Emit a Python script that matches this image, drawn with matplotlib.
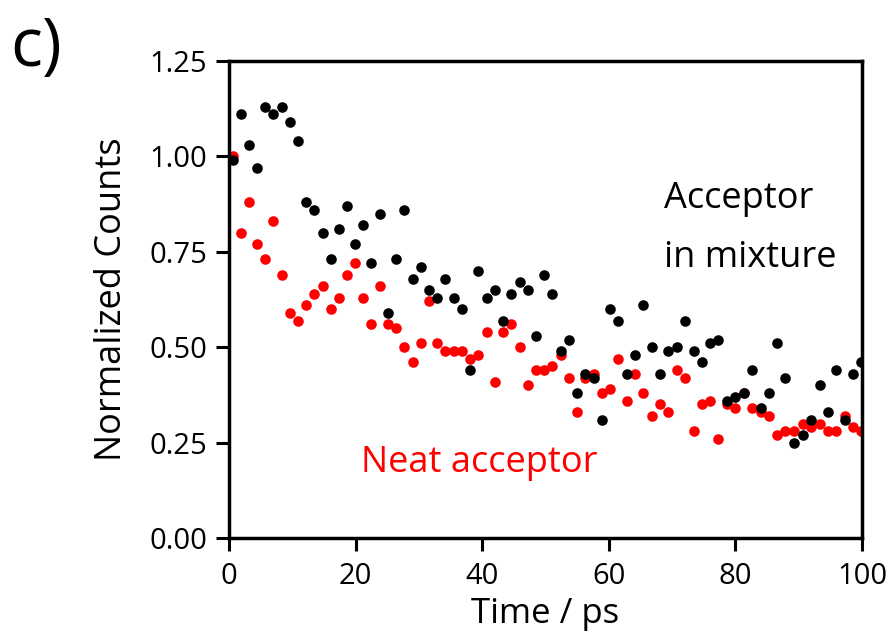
import matplotlib
matplotlib.use("Agg")
import matplotlib.pyplot as plt

plt.rcParams['font.family'] = ['Open Sans', 'DejaVu Sans']

# Delay times (ps)
time_ps = [0.6, 1.9, 3.2, 4.4, 5.7, 7.0, 8.3, 9.6, 10.9, 12.2, 13.5, 14.8,
           16.1, 17.4, 18.7, 19.9, 21.2, 22.5, 23.8, 25.1, 26.4, 27.7, 29.0,
           30.3, 31.6, 32.9, 34.2, 35.5, 36.8, 38.1, 39.4, 40.7, 42.0, 43.3,
           44.6, 45.9, 47.2, 48.5, 49.8, 51.1, 52.4, 53.7, 55.0, 56.3, 57.6,
           58.9, 60.2, 61.5, 62.8, 64.1, 65.4, 66.8, 68.1, 69.4, 70.7, 72.0,
           73.4, 74.7, 76.0, 77.3, 78.6, 80.0, 81.3, 82.7, 84.0, 85.3, 86.6,
           87.9, 89.3, 90.6, 91.9, 93.3, 94.6, 95.9, 97.3, 98.6, 99.9]

# Acceptor in mixture (black)
mixture = [0.99, 1.11, 1.03, 0.97, 1.13, 1.11, 1.13, 1.09, 1.04, 0.88, 0.86, 0.80,
           0.73, 0.81, 0.87, 0.77, 0.82, 0.72, 0.85, 0.59, 0.73, 0.86, 0.68,
           0.71, 0.65, 0.63, 0.68, 0.63, 0.60, 0.44, 0.70, 0.63, 0.65, 0.57,
           0.64, 0.67, 0.65, 0.53, 0.69, 0.64, 0.49, 0.52, 0.38, 0.43, 0.42,
           0.31, 0.60, 0.57, 0.43, 0.48, 0.61, 0.50, 0.43, 0.49, 0.50, 0.57,
           0.49, 0.46, 0.51, 0.52, 0.36, 0.37, 0.38, 0.44, 0.34, 0.38, 0.51,
           0.42, 0.25, 0.27, 0.31, 0.40, 0.33, 0.44, 0.31, 0.43, 0.46]

# Neat acceptor (red)
neat = [1.00, 0.80, 0.88, 0.77, 0.73, 0.83, 0.69, 0.59, 0.57, 0.61, 0.64, 0.66,
        0.60, 0.63, 0.69, 0.72, 0.63, 0.56, 0.66, 0.56, 0.55, 0.50, 0.46,
        0.51, 0.62, 0.51, 0.49, 0.49, 0.49, 0.47, 0.48, 0.54, 0.41, 0.54,
        0.56, 0.50, 0.40, 0.44, 0.44, 0.45, 0.48, 0.42, 0.33, 0.42, 0.43,
        0.38, 0.39, 0.47, 0.36, 0.43, 0.38, 0.32, 0.35, 0.33, 0.44, 0.42,
        0.28, 0.35, 0.36, 0.26, 0.35, 0.34, 0.38, 0.34, 0.33, 0.32, 0.27,
        0.28, 0.28, 0.30, 0.29, 0.30, 0.28, 0.28, 0.32, 0.29, 0.28]

x_ticks = [0, 20, 40, 60, 80, 100]
y_ticks = [0.00, 0.25, 0.50, 0.75, 1.00, 1.25]

fig = plt.figure(figsize=(8.93, 6.39), dpi=100)
ax = fig.add_axes([0.2564, 0.158, 0.7089, 0.7465])

ax.scatter(time_ps, mixture, s=58, color='black', linewidths=0, zorder=3)
ax.scatter(time_ps, neat, s=58, color='#ff0000', linewidths=0, zorder=2)

ax.set_xlim(0, 100)
ax.set_ylim(0, 1.25)
ax.set_xticks(x_ticks)
ax.set_yticks(y_ticks)
ax.set_yticklabels([f"{v:.2f}" for v in y_ticks])

for sp in ax.spines.values():
    sp.set_linewidth(2.5)
ax.tick_params(direction='out', length=9.5, width=2.2, labelsize=21)
ax.tick_params(axis='y', pad=6)
ax.tick_params(axis='x', pad=8)

ax.set_xlabel('Time / ps', fontsize=25, labelpad=4)
ax.set_ylabel('Normalized Counts', fontsize=26, labelpad=14)

ax.text(68.7, 0.889, 'Acceptor', fontsize=26, color='black', va='center', ha='left')
ax.text(68.7, 0.735, 'in mixture', fontsize=26, color='black', va='center', ha='left')
ax.text(20.8, 0.197, 'Neat acceptor', fontsize=26, color='#ff0000', va='center', ha='left')

fig.text(0.012, 0.925, 'c)', fontsize=48, va='center', ha='left')

fig.savefig('out.png', dpi=100)
